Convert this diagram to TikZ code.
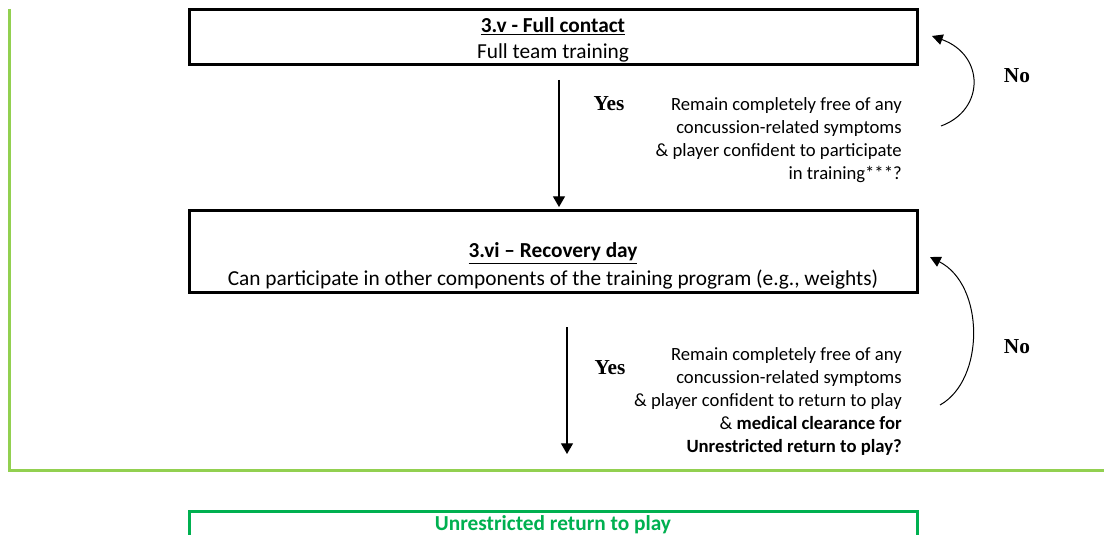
\documentclass[tikz,border=0pt]{standalone}
\usepackage{fontspec}
\setmainfont{Carlito}
\newfontfamily\yesnofont{Liberation Serif}
\usetikzlibrary{arrows.meta}
\definecolor{lightgreen}{HTML}{92D050}
\definecolor{okgreen}{HTML}{00B050}
\begin{document}
\begin{tikzpicture}[x=0.75pt,y=-0.75pt,
  stagebox/.style={draw=black,line width=2.25pt,inner sep=0pt,minimum width=546pt},
  body/.style={font=\fontsize{14}{17.1}\selectfont,inner sep=0pt},
  boxtext/.style={font=\fontsize{16}{20}\selectfont,inner sep=0pt},
  yesno/.style={font=\yesnofont\fontsize{16}{18}\selectfont\bfseries,inner sep=0pt},
  flow/.style={line width=0.9pt,-{Triangle[width=9pt,length=8pt]}},
  loop/.style={line width=0.75pt,-{Triangle[width=8pt,length=8pt]}}]
\useasboundingbox (0,0) rectangle (1104,535);
\clip (0,0) rectangle (1104,535);
% outer green frame
\draw[lightgreen,line width=2.25pt] (9,9) -- (9,470) -- (1110,470);
% boxes
\node[stagebox,minimum height=41.25pt] (b1) at (553,37.5) {};
\node[boxtext,align=center] (t1) at (553,40) {\textbf{\underline{3.v - Full contact}}\\Full team training};
\node[stagebox,minimum height=61.5pt] (b2) at (553,251) {};
\node[boxtext,align=center] (t2) at (553,266) {\textbf{\underline{3.vi – Recovery day}}\\[1pt]Can participate in other components of the training program (e.g., weights)};
\node[draw=okgreen,line width=2.25pt,inner sep=0pt,minimum width=546pt,minimum height=40pt,anchor=north] (b3) at (553,510) {};
\node[text=okgreen,font=\fontsize{16}{18}\selectfont\bfseries,inner sep=0pt] (t3) at (553,525) {Unrestricted return to play};
% arrows down
\coordinate (a1s) at (559,80);
\coordinate (a1e) at (559,207);
\draw[flow] (a1s) -- (a1e);
\coordinate (a2s) at (567,327);
\coordinate (a2e) at (567,454);
\draw[flow] (a2s) -- (a2e);
% labels
\node[yesno] (y1) at (609,104) {Yes};
\node[yesno] (y2) at (610,368) {Yes};
\node[yesno] (n1) at (1017,76) {No};
\node[yesno] (n2) at (1017,347) {No};
\node[body,align=right,anchor=east] (q1) at (902,140) {Remain completely free of any\\concussion-related symptoms\\\& player confident to participate\\in training***?};
\node[body,align=right,anchor=east] (q2) at (902,401.5) {Remain completely free of any\\concussion-related symptoms\\\& player confident to return to play\\\& \textbf{medical clearance for}\\\textbf{Unrestricted return to play?}};
% loop arrows
\coordinate (l1s) at (941,126);
\coordinate (l1e) at (932,36);
\draw[loop] (l1s) .. controls (985,110) and (985,55) .. (l1e);
\coordinate (l2s) at (940,405);
\coordinate (l2e) at (930,257);
\draw[loop] (l2s) .. controls (985,380) and (985,285) .. (l2e);
\end{tikzpicture}
\end{document}
